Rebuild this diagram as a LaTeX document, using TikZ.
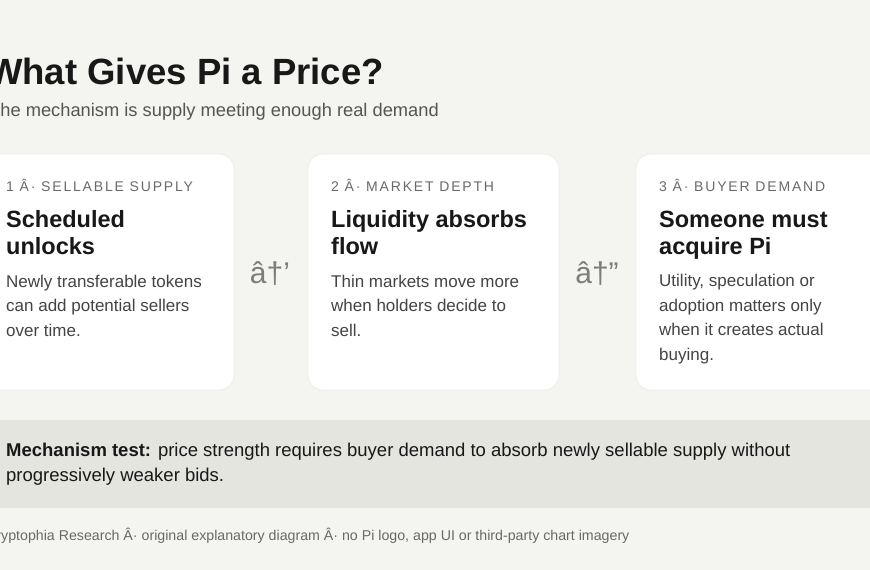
\documentclass[tikz,border=0pt]{standalone}
\usepackage{fontspec}
\setmainfont{Liberation Sans}
\usetikzlibrary{positioning}

\definecolor{pagebg}{RGB}{244,244,240}
\definecolor{bandbg}{RGB}{229,229,224}
\definecolor{cardedge}{RGB}{236,236,232}
\definecolor{inkdark}{RGB}{24,24,24}
\definecolor{inkgrey}{RGB}{85,85,85}
\definecolor{inkbody}{RGB}{68,68,68}
\definecolor{inklabel}{RGB}{105,105,105}
\definecolor{inkarrow}{RGB}{125,125,125}

% multi-line texts sit on the baseline of their last line
\tikzset{
  card/.style={fill=white,draw=cardedge,line width=0.8pt,rounded corners=15pt},
  txt/.style={inner sep=0pt,anchor=base west,align=left},
  steplabel/.style={txt,text=inklabel,font=\fontsize{14}{17}\selectfont\addfontfeature{LetterSpace=13}},
  cardhead/.style={txt,text=inkdark,font=\fontsize{23.5}{27}\selectfont\bfseries},
  cardbody/.style={txt,text=inkbody,font=\fontsize{17}{24.4}\selectfont},
  flowmark/.style={inner sep=0pt,anchor=base,text=inkarrow,font=\fontsize{30}{34}\selectfont}
}

\begin{document}
\begin{tikzpicture}[x=1pt,y=-1pt]
      \useasboundingbox (0,0) rectangle (870,570);
      \clip (0,0) rectangle (870,570);
      \fill[pagebg] (0,0) rectangle (870,570);
      % heading
      \node[txt,text=inkdark,font=\fontsize{36.5}{42}\selectfont\bfseries] (title) at (-12,84) {What Gives Pi a Price?};
      \node[txt,text=inkgrey,font=\fontsize{18.3}{22}\selectfont] (subtitle) at (-11,116) {The mechanism is supply meeting enough real demand};
      % the three cards
      \draw[card] (-17,154) rectangle (234,390);
      \draw[card] (308,154) rectangle (559,390);
      \draw[card] (636,154) rectangle (887,390);
      \node[steplabel] (supplylabel) at (6,191) {1 Â· SELLABLE SUPPLY};
      \node[cardhead] (supplyhead) at (6,254) {Scheduled\\unlocks};
      \node[cardbody] (supplybody) at (6,336) {Newly transferable tokens\\can add potential sellers\\over time.};
      \node[steplabel] (depthlabel) at (331,191) {2 Â· MARKET DEPTH};
      \node[cardhead] (depthhead) at (331,254) {Liquidity absorbs\\flow};
      \node[cardbody] (depthbody) at (331,336) {Thin markets move more\\when holders decide to\\sell.};
      \node[steplabel] (demandlabel) at (659,191) {3 Â· BUYER DEMAND};
      \node[cardhead] (demandhead) at (659,254) {Someone must\\acquire Pi};
      \node[cardbody] (demandbody) at (659,360) {Utility, speculation or\\adoption matters only\\when it creates actual\\buying.};
      % marks between the cards
      \node[flowmark] (markA) at (270,283) {â†’};
      \node[flowmark] (markB) at (597,283) {â†”};
      % test band
      \fill[bandbg] (-20,420) rectangle (890,508);
      \node[txt,text=inkdark,font=\fontsize{18.5}{25}\selectfont] (testnote) at (6,481) {\textbf{Mechanism test:} price strength requires buyer demand to absorb newly sellable supply without\\progressively weaker bids.};
      % footer
      \node[txt,text=inklabel,font=\fontsize{14.2}{16}\selectfont] (footer) at (-14,540) {Cryptophia Research Â· original explanatory diagram Â· no Pi logo, app UI or third-party chart imagery};
\end{tikzpicture}
\end{document}
